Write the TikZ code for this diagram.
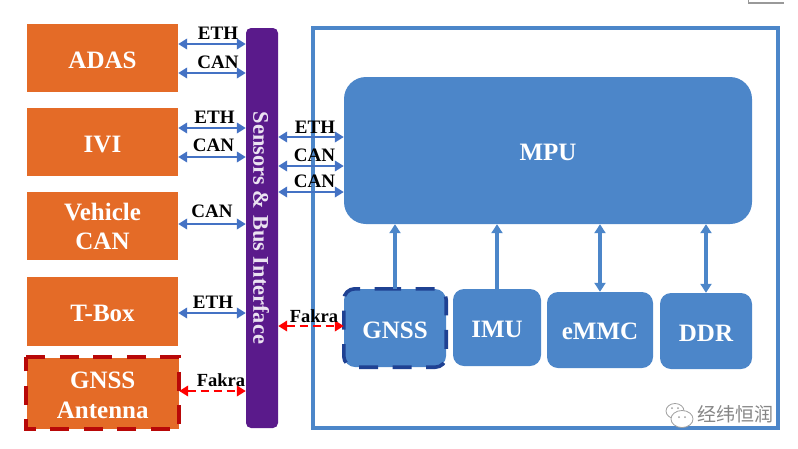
\documentclass[tikz,border=0pt]{standalone}
\usepackage{fontspec}
\setmainfont{Liberation Serif}
\newfontfamily\cjkfont{Noto Sans CJK SC}
\usetikzlibrary{arrows.meta}
\definecolor{orangebox}{HTML}{E46B27}
\definecolor{purplebar}{HTML}{5A1A8B}
\definecolor{bluebox}{HTML}{4C86C9}
\definecolor{linkblue}{HTML}{4472C4}
\definecolor{darkred}{HTML}{B80808}
\definecolor{navydash}{HTML}{1F4192}
\newcommand{\lowered}[1]{\raisebox{-2pt}[\height][\depth]{#1}}
\tikzset{
  x=1pt,y=-1pt,
  wh/.style 2 args={minimum width=#1pt,minimum height=#2pt},
  orangenode/.style={fill=orangebox,inner sep=0pt,align=center,text=white,font=\fontsize{25}{30}\selectfont\bfseries},
  bluenode/.style={fill=bluebox,rounded corners=11pt,inner sep=0pt,align=center,text=white,font=\fontsize{25}{30}\selectfont\bfseries},
  linklabel/.style={inner sep=0pt,font=\fontsize{19}{22}\selectfont\bfseries,text=black},
  fakralabel/.style={inner sep=0pt,font=\fontsize{18.5}{22}\selectfont\bfseries,text=black},
  buslink/.style={linkblue,line width=2.4pt,{Triangle[width=10.5pt,length=9pt]}-{Triangle[width=10.5pt,length=9pt]}},
  fakralink/.style={red,line width=2.2pt,dash pattern=on 8pt off 5pt,{Triangle[width=10.5pt,length=9pt]}-{Triangle[width=10.5pt,length=9pt]}},
  uplink/.style={bluebox,line width=3.4pt,-{Triangle[width=11pt,length=9pt]}},
  bothlink/.style={bluebox,line width=3.4pt,{Triangle[width=11pt,length=9pt]}-{Triangle[width=11pt,length=9pt]}},
  reddash/.style={darkred,line width=4.2pt,dash pattern=on 19pt off 14.5pt},
  navyoutline/.style={navydash,line width=3.6pt,rounded corners=11pt,dash pattern=on 19pt off 14.5pt},
}
\begin{document}
\begin{tikzpicture}
\useasboundingbox (0,0) rectangle (798,448);
% corner fragment at the top right
\draw[gray!80,line width=1.2pt] (748.5,0) -- (748.5,3) -- (784,3);
% outer frame
\node[draw=bluebox,line width=3.6pt,inner sep=0pt,wh={465}{400}] (frame) at (545.5,228) {};
% left column
\node[orangenode,wh={151}{68}] (adas) at (102.5,58) {\lowered{ADAS}};
\node[orangenode,wh={151}{68}] (ivi) at (102.5,142) {\lowered{IVI}};
\node[orangenode,wh={151}{68}] (vcan) at (102.5,226) {Vehicle\\[-1pt]CAN};
\node[orangenode,wh={151}{69}] (tbox) at (102.5,311.5) {\lowered{T-Box}};
\node[orangenode,wh={152.5}{71.5}] (ant) at (102.75,393.25) {\lowered{GNSS}\\[0pt]\lowered{Antenna}};
\draw[reddash] (ant.north west) -- (ant.north east) -- (ant.south east) -- (ant.south west) -- cycle;
% bus
\node[fill=purplebar,rounded corners=5pt,inner sep=0pt,wh={32}{400}] (bus) at (262,228) {};
\node[rotate=-90,inner sep=0pt,text=white!88!purplebar,font=\fontsize{22.4}{24}\selectfont\bfseries] (bustext) at (261,228) {Sensors \& Bus Interface};
% right blocks
\node[bluenode,rounded corners=22pt,wh={408}{147}] (mpu) at (548,150.5) {\lowered{MPU}};
\node[bluenode,wh={102}{78}] (gnss) at (395,328) {\lowered{GNSS}};
\draw[navyoutline] (371,0 |- gnss.north) -- (gnss.north east) -- (gnss.south east) -- (gnss.south west) -- (gnss.north west) -- cycle;
\node[bluenode,wh={88}{77}] (imu) at (497,327.5) {\lowered{IMU}};
\node[bluenode,wh={106}{76}] (emmc) at (600,330) {\raisebox{-1pt}[\height][\depth]{eMMC}};
\node[bluenode,wh={92}{76}] (ddr) at (706,331) {\lowered{DDR}};
% bus links
\draw[buslink] (adas.east |- 0,44) -- (bus.west |- 0,44);
\draw[buslink] (adas.east |- 0,73) -- (bus.west |- 0,73);
\draw[buslink] (ivi.east |- 0,128) -- (bus.west |- 0,128);
\draw[buslink] (ivi.east |- 0,157) -- (bus.west |- 0,157);
\draw[buslink] (vcan.east |- 0,224) -- (bus.west |- 0,224);
\draw[buslink] (tbox.east |- 0,313) -- (bus.west |- 0,313);
\draw[fakralink] (ant.east |- 0,391) -- (bus.west |- 0,391);
\draw[buslink] (bus.east |- 0,137) -- (mpu.west |- 0,137);
\draw[buslink] (bus.east |- 0,166) -- (mpu.west |- 0,166);
\draw[buslink] (bus.east |- 0,192) -- (mpu.west |- 0,192);
\draw[fakralink] (bus.east |- 0,326) -- (gnss.west |- 0,326);
% link labels
\node[linklabel] (l1) at (218,33) {ETH};
\node[linklabel] (l2) at (218,62) {CAN};
\node[linklabel] (l3) at (214.5,117) {ETH};
\node[linklabel] (l4) at (213.5,145.5) {CAN};
\node[linklabel] (l5) at (212,211) {CAN};
\node[linklabel] (l6) at (213,302) {ETH};
\node[fakralabel] (l7) at (221,380) {Fakra};
\node[linklabel] (l8) at (315,127) {ETH};
\node[linklabel] (l9) at (314.5,155) {CAN};
\node[linklabel] (l10) at (314.5,181) {CAN};
\node[fakralabel] (l11) at (314,316) {Fakra};
% vertical links
\draw[uplink] (gnss.north) -- (gnss.north |- mpu.south);
\draw[uplink] (imu.north) -- (imu.north |- mpu.south);
\draw[bothlink] (emmc.north) -- (emmc.north |- mpu.south);
\draw[bothlink] (ddr.north) -- (ddr.north |- mpu.south);
% watermark
\draw[gray!75,line width=0.8pt,fill=white] (675,411) ellipse (9pt and 7.5pt);
\draw[gray!75,line width=0.8pt,fill=white] (682,419) ellipse (11pt and 8.5pt);
\fill[gray!75] (672,408) circle (1pt) (678,408) circle (1pt) (679,417) circle (1pt) (685,417) circle (1pt);
\node[inner sep=0pt,text=gray!95,font=\fontsize{19}{22}\cjkfont] (mark) at (735,414) {经纬恒润};
\end{tikzpicture}
\end{document}
